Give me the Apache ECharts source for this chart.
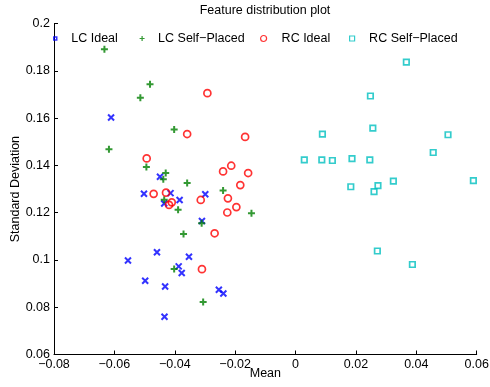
<!DOCTYPE html>
<html>
<head>
<meta charset="utf-8">
<script src="https://cdn.jsdelivr.net/npm/echarts@6/dist/echarts.min.js"></script>
<style>
html,body{margin:0;padding:0;background:#fff;}
#chart{width:490px;height:387px;}
</style>
</head>
<body>
<div id="chart"></div>
<script>
// ---- data ----
const seriesNames = ['LC Ideal', 'LC Self\u2212Placed', 'RC Ideal', 'RC Self\u2212Placed'];

const lcIdealMean = [-0.0611, -0.0449, -0.0502, -0.0414, -0.0384, -0.0435, -0.0299, -0.0310, -0.0555, -0.0459, -0.0353, -0.0387, -0.0377, -0.0498, -0.0432, -0.0434, -0.0254, -0.0239];
const lcIdealStd  = [0.1603, 0.1352, 0.1280, 0.1283, 0.1254, 0.1239, 0.1278, 0.1165, 0.0998, 0.1033, 0.1014, 0.0973, 0.0945, 0.0912, 0.0888, 0.0760, 0.0874, 0.0858];

const lcSelfMean = [-0.0633, -0.0482, -0.0514, -0.0402, -0.0618, -0.0494, -0.0430, -0.0438, -0.0359, -0.0435, -0.0389, -0.0371, -0.0402, -0.0306, -0.0240, -0.0146, -0.0311];
const lcSelfStd  = [0.1892, 0.1744, 0.1687, 0.1552, 0.1469, 0.1394, 0.1368, 0.1342, 0.1326, 0.1255, 0.1213, 0.1110, 0.0962, 0.0822, 0.1294, 0.1198, 0.1156];

const rcIdealMean = [-0.0292, -0.0359, -0.0167, -0.0493, -0.0240, -0.0213, -0.0157, -0.0183, -0.0470, -0.0429, -0.0410, -0.0419, -0.0314, -0.0224, -0.0196, -0.0226, -0.0268, -0.0310];
const rcIdealStd  = [0.1706, 0.1533, 0.1521, 0.1430, 0.1375, 0.1399, 0.1368, 0.1317, 0.1280, 0.1285, 0.1244, 0.1233, 0.1254, 0.1261, 0.1224, 0.1201, 0.1113, 0.0961];

const rcSelfMean = [0.0367, 0.0248, 0.0256, 0.0089, 0.0505, 0.0456, 0.0029, 0.0087, 0.0122, 0.0187, 0.0246, 0.0589, 0.0324, 0.0183, 0.0273, 0.0260, 0.0271, 0.0387];
const rcSelfStd  = [0.1837, 0.1694, 0.1558, 0.1533, 0.1530, 0.1455, 0.1424, 0.1424, 0.1421, 0.1429, 0.1424, 0.1336, 0.1334, 0.1310, 0.1315, 0.1289, 0.1038, 0.0981];

const xTicks = [-0.08, -0.06, -0.04, -0.02, 0, 0.02, 0.04, 0.06];
const yTicks = [0.06, 0.08, 0.1, 0.12, 0.14, 0.16, 0.18, 0.2];

// ---- chart ----
function zip(a, b) { return a.map((v, i) => [v, b[i]]); }
function fmt(v) { return String(Number(v.toFixed(2))).replace('-', '\u2212'); }

const FONT = 'Liberation Sans, Arial, Helvetica, sans-serif';
const FS = 12.5;

const symX = 'path://M0,0L10,10M10,0L0,10';
const symPlus = 'path://M5,0L5,10M0,5L10,5';
const symSquare = 'path://M0,0L10,0L10,10L0,10Z';

const colors = ['#0000ff', '#008000', '#ff0000', '#00bfbf'];

function mkLegend(name, left, itemWidth, itemHeight, icon, color, bw) {
  return {
    data: [{ name: name, icon: icon }],
    left: left, top: 32, padding: 0,
    itemWidth: itemWidth, itemHeight: itemHeight,
    selectedMode: false,
    itemStyle: { color: 'rgba(0,0,0,0)', borderColor: color, borderWidth: bw },
    textStyle: { fontFamily: FONT, fontSize: FS, color: '#000' }
  };
}

const chart = echarts.init(document.getElementById('chart'), null, { renderer: 'canvas' });
chart.setOption({
  animation: false,
  backgroundColor: '#fff',
  title: {
    text: 'Feature distribution plot',
    left: 265, top: 4, padding: 0, textAlign: 'center',
    textStyle: { fontFamily: FONT, fontSize: FS, fontWeight: 'normal', color: '#000' }
  },
  legend: [
    mkLegend(seriesNames[0], 53, 22, 3, symSquare, colors[0], 1.5),
    mkLegend(seriesNames[1], 139, 22, 5, symPlus, colors[1], 1.2),
    mkLegend(seriesNames[2], 260, 26, 6, 'circle', colors[2], 1.2),
    mkLegend(seriesNames[3], 349, 24, 5, symSquare, colors[3], 1.2)
  ],
  grid: { left: 54, right: 13.3, top: 23.7, bottom: 32.5, containLabel: false, outerBoundsMode: 'none' },
  xAxis: {
    type: 'value', min: xTicks[0], max: xTicks[xTicks.length - 1], interval: 0.02,
    name: 'Mean', nameLocation: 'middle', nameGap: 13, nameMoveOverlap: false,
    nameTextStyle: { fontFamily: FONT, fontSize: FS, color: '#000' },
    axisLine: { show: true, onZero: false, lineStyle: { color: '#000', width: 1 } },
    axisTick: { show: true, inside: true, length: 4, lineStyle: { color: '#000' } },
    axisLabel: { margin: 4, fontFamily: FONT, fontSize: FS, color: '#000', formatter: fmt },
    splitLine: { show: false }
  },
  yAxis: {
    type: 'value', min: yTicks[0], max: yTicks[yTicks.length - 1], interval: 0.02,
    name: 'Standard Deviation', nameLocation: 'middle', nameGap: 32, nameMoveOverlap: false,
    nameTextStyle: { fontFamily: FONT, fontSize: FS, color: '#000' },
    axisLine: { show: true, onZero: false, lineStyle: { color: '#000', width: 1 } },
    axisTick: { show: true, inside: true, length: 4, lineStyle: { color: '#000' } },
    axisLabel: { margin: 4, fontFamily: FONT, fontSize: FS, color: '#000', formatter: fmt },
    splitLine: { show: false }
  },
  series: [
    { name: seriesNames[0], type: 'scatter', symbol: symX, symbolSize: 6,
      itemStyle: { color: 'rgba(0,0,0,0)', borderColor: colors[0], borderWidth: 2 },
      data: zip(lcIdealMean, lcIdealStd) },
    { name: seriesNames[1], type: 'scatter', symbol: symPlus, symbolSize: 7,
      itemStyle: { color: 'rgba(0,0,0,0)', borderColor: colors[1], borderWidth: 2 },
      data: zip(lcSelfMean, lcSelfStd) },
    { name: seriesNames[2], type: 'scatter', symbol: 'circle', symbolSize: 7,
      itemStyle: { color: 'rgba(0,0,0,0)', borderColor: colors[2], borderWidth: 1.7 },
      data: zip(rcIdealMean, rcIdealStd) },
    { name: seriesNames[3], type: 'scatter', symbol: symSquare, symbolSize: 5.5,
      itemStyle: { color: 'rgba(0,0,0,0)', borderColor: colors[3], borderWidth: 1.7 },
      data: zip(rcSelfMean, rcSelfStd) }
  ]
});
</script>
</body>
</html>
